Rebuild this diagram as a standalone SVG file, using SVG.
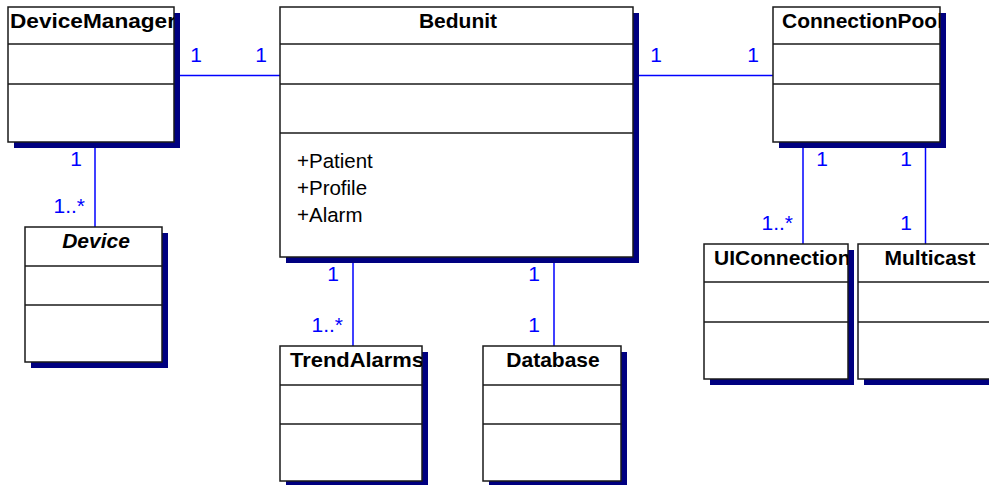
<svg xmlns="http://www.w3.org/2000/svg" width="989" height="485" viewBox="0 0 989 485">
<style>
  .shadow { fill: #000080; }
  .box { fill: #ffffff; stroke: #1a1a1a; stroke-width: 1.5; }
  .div { stroke: #1a1a1a; stroke-width: 1.5; }
  .name { font-family: "Liberation Sans", Arial, sans-serif; font-size: 21px; font-weight: bold; fill: #000; }
  .attr { font-family: "Liberation Sans", Arial, sans-serif; font-size: 20.5px; fill: #000; }
  .conn { stroke: #0000ff; stroke-width: 1.5; fill: none; }
  .mult { font-family: "Liberation Sans", Arial, sans-serif; font-size: 21px; fill: #0000ff; }
</style>
<defs>
  <clipPath id="cDM"><rect x="8" y="7" width="166" height="135"/></clipPath>
  <clipPath id="cCP"><rect x="773" y="7" width="167" height="135"/></clipPath>
  <clipPath id="cTA"><rect x="280" y="346" width="142" height="135"/></clipPath>
  <clipPath id="cUI"><rect x="704" y="244" width="144" height="135"/></clipPath>
</defs>
<rect width="989" height="485" fill="#ffffff"/>
<g id="connectors">
  <line class="conn" x1="174" y1="75.5" x2="280" y2="75.5"/>
  <text class="mult" x="196" y="62" text-anchor="middle">1</text>
  <text class="mult" x="261" y="62" text-anchor="middle">1</text>
  <line class="conn" x1="633" y1="75.5" x2="773" y2="75.5"/>
  <text class="mult" x="656" y="62" text-anchor="middle">1</text>
  <text class="mult" x="753" y="62" text-anchor="middle">1</text>
  <line class="conn" x1="95" y1="142" x2="95" y2="227"/>
  <text class="mult" x="76" y="166" text-anchor="middle">1</text>
  <text class="mult" x="85" y="213" text-anchor="end">1..*</text>
  <line class="conn" x1="353" y1="257" x2="353" y2="346"/>
  <text class="mult" x="333" y="281" text-anchor="middle">1</text>
  <text class="mult" x="343" y="332" text-anchor="end">1..*</text>
  <line class="conn" x1="554" y1="257" x2="554" y2="346"/>
  <text class="mult" x="534" y="281" text-anchor="middle">1</text>
  <text class="mult" x="534" y="332" text-anchor="middle">1</text>
  <line class="conn" x1="803" y1="142" x2="803" y2="244"/>
  <text class="mult" x="822" y="166" text-anchor="middle">1</text>
  <text class="mult" x="793" y="230" text-anchor="end">1..*</text>
  <line class="conn" x1="925.5" y1="142" x2="925.5" y2="244"/>
  <text class="mult" x="906" y="166" text-anchor="middle">1</text>
  <text class="mult" x="906" y="230" text-anchor="middle">1</text>
</g>
<g id="DeviceManager">
  <rect class="shadow" x="14" y="13" width="166" height="135"/>
  <rect class="box" x="8" y="7" width="166" height="135"/>
  <line class="div" x1="8" y1="44" x2="174" y2="44"/>
  <line class="div" x1="8" y1="84" x2="174" y2="84"/>
  <text class="name" x="10" y="28" clip-path="url(#cDM)" textLength="166" lengthAdjust="spacingAndGlyphs">DeviceManager</text>
</g>
<g id="Bedunit">
  <rect class="shadow" x="286" y="13" width="353" height="250"/>
  <rect class="box" x="280" y="7" width="353" height="250"/>
  <line class="div" x1="280" y1="44" x2="633" y2="44"/>
  <line class="div" x1="280" y1="84" x2="633" y2="84"/>
  <line class="div" x1="280" y1="133" x2="633" y2="133"/>
  <text class="name" x="458" y="28" text-anchor="middle">Bedunit</text>
  <text class="attr" x="297" y="168">+Patient</text>
  <text class="attr" x="297" y="195">+Profile</text>
  <text class="attr" x="297" y="222">+Alarm</text>
</g>
<g id="ConnectionPool">
  <rect class="shadow" x="779" y="13" width="167" height="135"/>
  <rect class="box" x="773" y="7" width="167" height="135"/>
  <line class="div" x1="773" y1="44" x2="940" y2="44"/>
  <line class="div" x1="773" y1="84" x2="940" y2="84"/>
  <text class="name" x="782" y="28" clip-path="url(#cCP)">ConnectionPool</text>
</g>
<g id="Device">
  <rect class="shadow" x="31" y="233" width="137" height="135"/>
  <rect class="box" x="25" y="227" width="137" height="135"/>
  <line class="div" x1="25" y1="266" x2="162" y2="266"/>
  <line class="div" x1="25" y1="305" x2="162" y2="305"/>
  <text class="name" x="96" y="248" text-anchor="middle" font-style="italic">Device</text>
</g>
<g id="TrendAlarms">
  <rect class="shadow" x="286" y="352" width="142" height="135"/>
  <rect class="box" x="280" y="346" width="142" height="135"/>
  <line class="div" x1="280" y1="385" x2="422" y2="385"/>
  <line class="div" x1="280" y1="424" x2="422" y2="424"/>
  <text class="name" x="290" y="367" clip-path="url(#cTA)" textLength="134" lengthAdjust="spacingAndGlyphs">TrendAlarms</text>
</g>
<g id="Database">
  <rect class="shadow" x="489" y="352" width="138" height="135"/>
  <rect class="box" x="483" y="346" width="138" height="135"/>
  <line class="div" x1="483" y1="385" x2="621" y2="385"/>
  <line class="div" x1="483" y1="424" x2="621" y2="424"/>
  <text class="name" x="553" y="367" text-anchor="middle">Database</text>
</g>
<g id="UIConnection">
  <rect class="shadow" x="710" y="250" width="144" height="135"/>
  <rect class="box" x="704" y="244" width="144" height="135"/>
  <line class="div" x1="704" y1="282" x2="848" y2="282"/>
  <line class="div" x1="704" y1="322" x2="848" y2="322"/>
  <text class="name" x="714" y="265" clip-path="url(#cUI)">UIConnection</text>
</g>
<g id="Multicast">
  <rect class="shadow" x="864" y="250" width="144" height="135"/>
  <rect class="box" x="858" y="244" width="144" height="135"/>
  <line class="div" x1="858" y1="282" x2="1002" y2="282"/>
  <line class="div" x1="858" y1="322" x2="1002" y2="322"/>
  <text class="name" x="930" y="265" text-anchor="middle">Multicast</text>
</g>
</svg>
